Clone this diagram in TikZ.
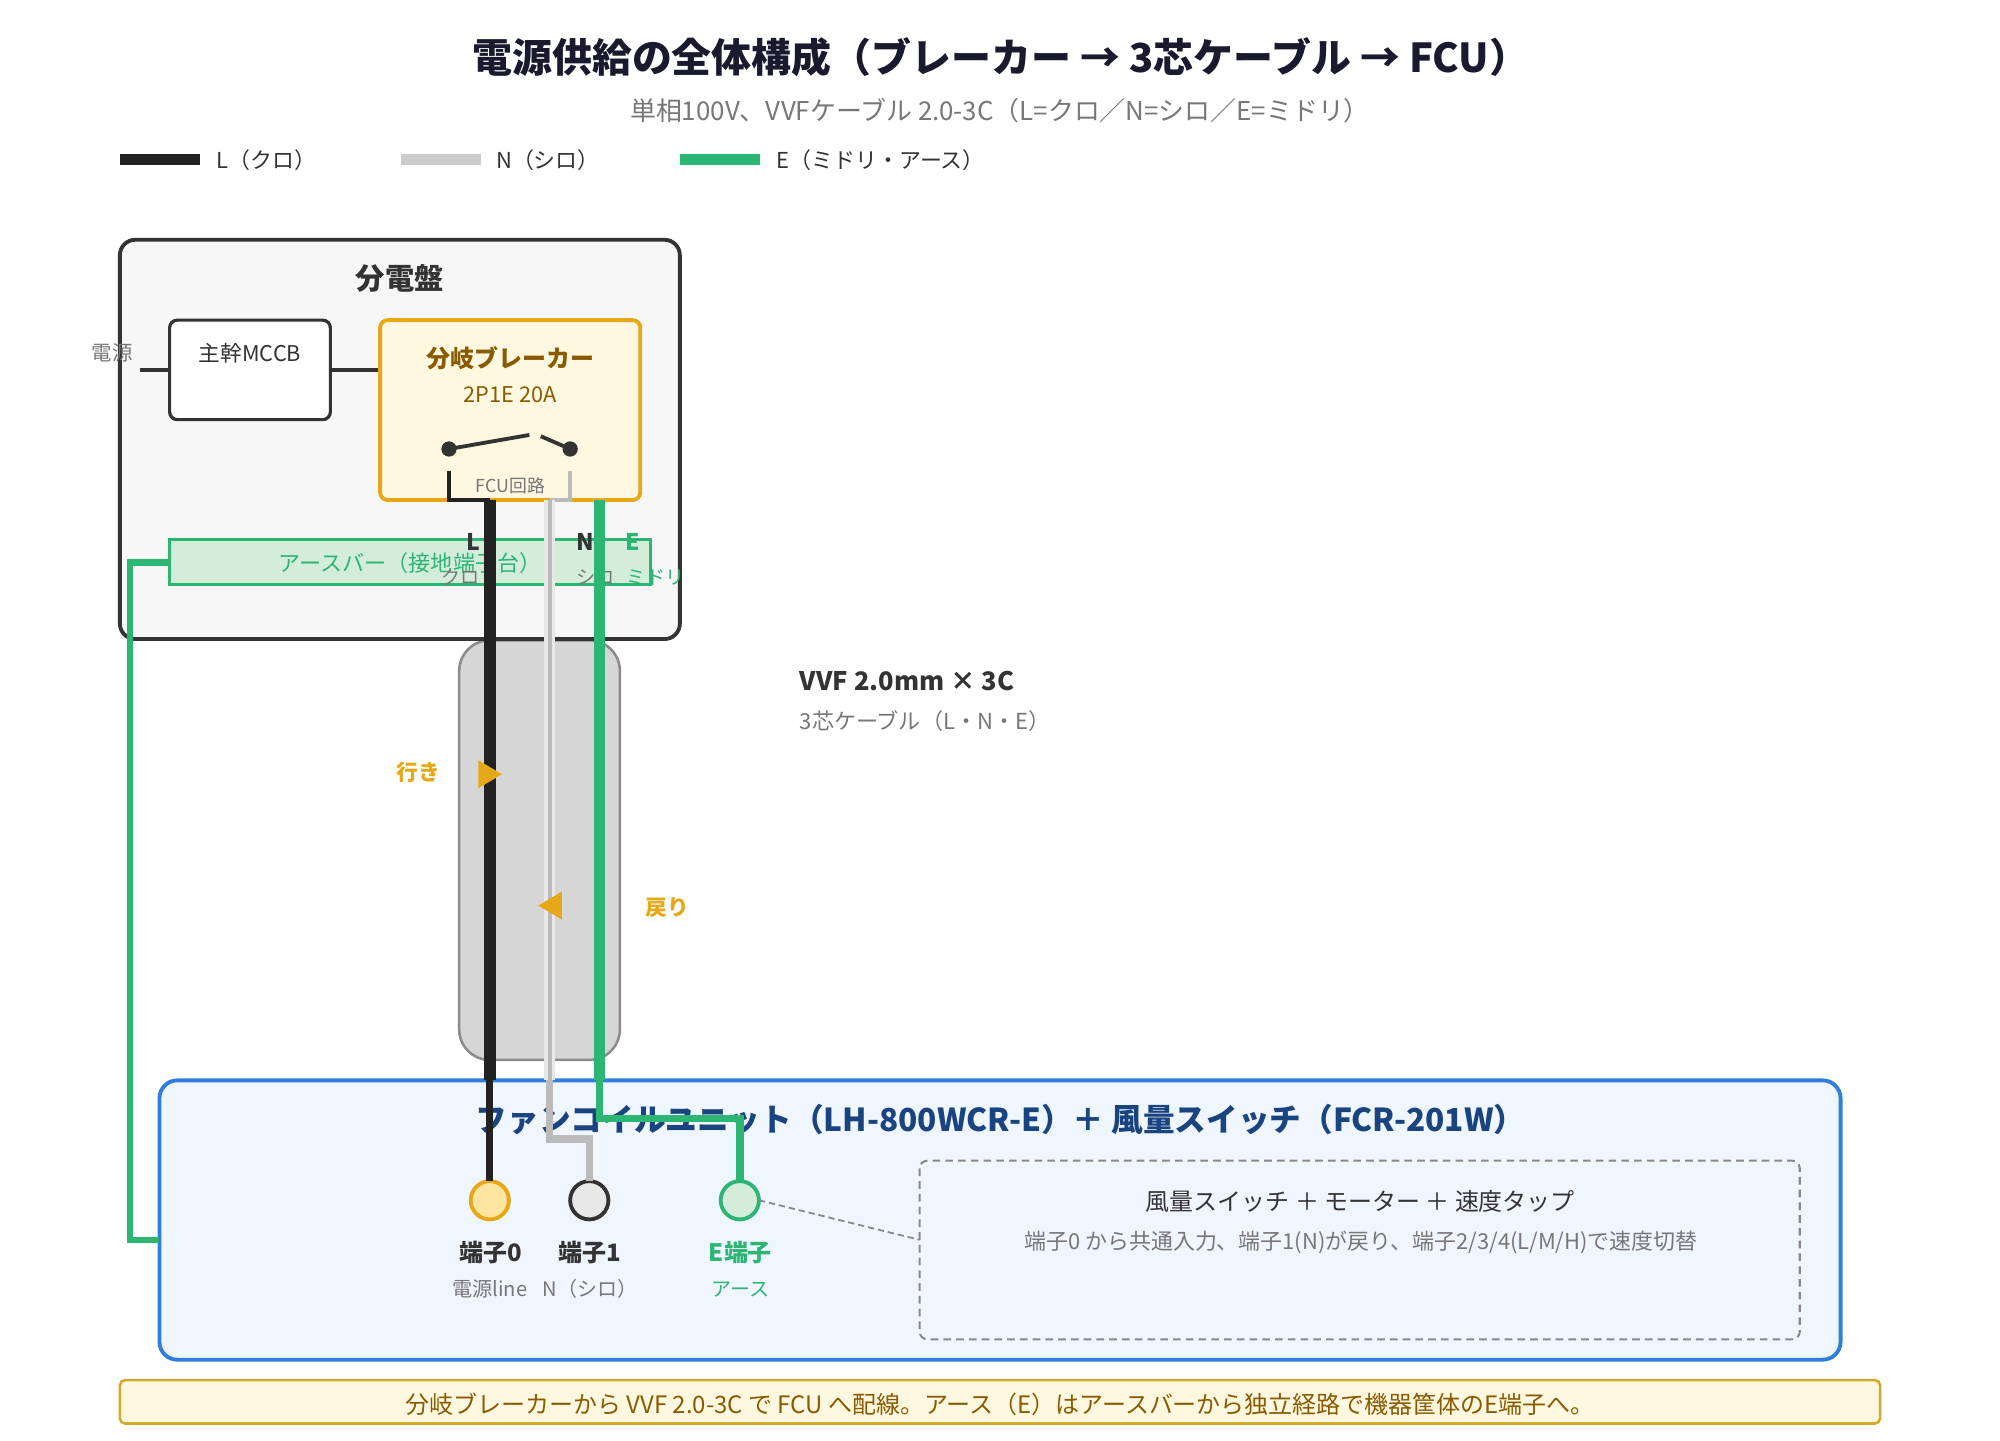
\documentclass[tikz,border=0pt]{standalone}
\usepackage{fontspec}
\setmainfont{Noto Sans CJK JP}
\newcommand{\fs}[1]{\fontsize{\the\dimexpr #1pt/2\relax}{\the\dimexpr #1pt*3/5\relax}\selectfont}
\definecolor{cDark}{HTML}{333333}
\definecolor{cL}{HTML}{222222}
\definecolor{cNb}{HTML}{BBBBBB}
\definecolor{cNl}{HTML}{E8E8E8}
\definecolor{cNleg}{HTML}{CCCCCC}
\definecolor{cE}{HTML}{2DB573}
\definecolor{cEf}{HTML}{D4EDDA}
\definecolor{cOr}{HTML}{E6A817}
\definecolor{cOrf}{HTML}{FFE5A0}
\definecolor{cBrown}{HTML}{8A5A00}
\definecolor{cCream}{HTML}{FFF8E1}
\definecolor{cBlue}{HTML}{2F7DE1}
\definecolor{cBluef}{HTML}{F0F6FF}
\definecolor{cNavy}{HTML}{1A4480}
\definecolor{cGray}{HTML}{777777}
\definecolor{cTitle}{HTML}{1A1A2E}
\definecolor{cPanel}{HTML}{F7F7F7}
\definecolor{cSheath}{HTML}{D6D6D6}
\definecolor{cFoot}{HTML}{D4A92A}
\definecolor{cDash}{HTML}{888888}
\tikzset{
 x=0.5pt,y=-0.5pt,
 txt/.style={inner sep=0pt,outer sep=0pt,align=center,text=#1,yshift=-0.35pt},
 txt/.default=cDark,
 boxn/.style={inner sep=0pt,outer sep=0pt},
 wire/.style={line cap=butt,line join=miter},
}
\newcommand{\rbox}[7]{% name x1 y1 x2 y2 radius opts
 \draw[#7,rounded corners=#6*0.5pt] (#2,#3) rectangle (#4,#5);
 \coordinate (#1) at ({(#2+#4)/2},{(#3+#5)/2});}
\begin{document}
\begin{tikzpicture}
\useasboundingbox[fill=white] (0,0) rectangle (1568,1129);
% coordinates
\coordinate (legLa) at (94,125); \coordinate (legLb) at (157,125);
\coordinate (legNa) at (314,125); \coordinate (legNb) at (377,125);
\coordinate (legEa) at (533,125); \coordinate (legEb) at (596,125);
\coordinate (pwr) at (110,290);
\coordinate (mccbL) at (133,290); \coordinate (mccbR) at (259,290);
\coordinate (brkL) at (298,290);
\coordinate (swA) at (352,352); \coordinate (swB) at (447,352);
\coordinate (swAe) at (415,341); \coordinate (swBe) at (424,342);
\coordinate (lTop) at (384,392); \coordinate (nTop) at (431,392); \coordinate (eTop) at (470,392);
\coordinate (lStub) at (352,369); \coordinate (nStub) at (447,369);
\coordinate (lBot) at (384,847); \coordinate (nBot) at (431,847); \coordinate (eBot) at (470,847);
\coordinate (nBend) at (431,893); \coordinate (nBendb) at (462,893);
\coordinate (eBend) at (470,877); \coordinate (eBendb) at (580,877);
\coordinate (barW) at (133,441); \coordinate (gA) at (102,441); \coordinate (gB) at (102,972); \coordinate (fcuW) at (125,972);
\coordinate (noteW) at (721,972);

% title
\node[txt=cTitle,font=\fs{31.3}\bfseries] (title) at (784.5,44) {電源供給の全体構成（ブレーカー → 3芯ケーブル → FCU）};
\node[txt=cGray,font=\fs{20.3}] (sub) at (784,86) {単相100V、VVFケーブル 2.0-3C（L=クロ／N=シロ／E=ミドリ）};
% legend
\draw[cL,line width=8*0.5pt] (legLa) -- (legLb);
\draw[cNleg,line width=8*0.5pt] (legNa) -- (legNb);
\draw[cE,line width=8*0.5pt] (legEa) -- (legEb);
\node[txt,anchor=west,font=\fs{17.2}] (legLt) at (170,125) {L（クロ）};
\node[txt,anchor=west,font=\fs{17.2}] (legNt) at (389,125) {N（シロ）};
\node[txt,anchor=west,font=\fs{17.2}] (legEt) at (609,125) {E（ミドリ・アース）};
% cable sheath
\rbox{sheath}{360}{502}{486}{831}{24}{fill=cSheath,draw=black!45,line width=1pt}
% panel
\rbox{panel}{94}{188}{533}{501}{12}{fill=cPanel,draw=cDark,line width=1.5pt}
\node[txt,font=\fs{23}\bfseries] (panelT) at (313.5,218) {分電盤};
\node[txt=cGray,font=\fs{16}] (pwrT) at (88,276) {電源};
\rbox{mccb}{133}{251}{259}{329}{6}{fill=white,draw=cDark,line width=1.25pt}
\node[txt,font=\fs{17}] (mccbT) at (196,276) {主幹MCCB};
\draw[cDark,line width=1.5pt] (pwr) -- (mccbL);
\draw[cDark,line width=1.5pt] (mccbR) -- (brkL);
% breaker
\rbox{brk}{298}{251}{502}{392}{6}{fill=cCream,draw=cOr,line width=1.5pt}
\node[txt=cBrown,font=\fs{18.8}\bfseries] (brkT) at (400,280) {分岐ブレーカー};
\node[txt=cBrown,font=\fs{17}] (brkS) at (400,309) {2P1E 20A};
\fill[cDark] (swA) circle[radius=3pt];
\fill[cDark] (swB) circle[radius=3pt];
\draw[cDark,line width=1.5pt] (swA) -- (swAe);
\draw[cDark,line width=1.5pt] (swB) -- (swBe);
\node[txt=cGray,font=\fs{14}] (fcuc) at (400,380) {FCU回路};
\draw[cL,line width=1.5pt,wire] (lStub) |- (lTop);
\draw[cNb,line width=1.5pt,wire] (nStub) |- (nTop);
% earth bar
\draw[fill=cEf,draw=cE,line width=1.25pt] (133,423) rectangle (510,458);
\node[txt=cE,font=\fs{17.3}] (barT) at (321.5,441) {アースバー（接地端子台）};
\node[txt,font=\fs{18}\bfseries] (lL) at (371,424) {L};
\node[txt,font=\fs{18}\bfseries] (lN) at (458.5,424) {N};
\node[txt=cE,font=\fs{18}\bfseries] (lE) at (496,424) {E};
\node[txt=cGray,font=\fs{15}] (lLs) at (361,452) {クロ};
\node[txt=cGray,font=\fs{15}] (lNs) at (467,452) {シロ};
\node[txt=cE,font=\fs{15}] (lEs) at (514,452) {ミドリ};
% fcu
\rbox{fcu}{125}{847}{1443}{1066}{14}{fill=cBluef,draw=cBlue,line width=1.5pt}
\node[txt=cNavy,font=\fs{24.8}\bfseries] (fcuT) at (784.5,877) {ファンコイルユニット（LH-800WCR-E）＋ 風量スイッチ（FCR-201W）};
% cable wires
\draw[cL,line width=4.7pt,wire] (lTop) -- (lBot);
\draw[cNl,line width=4.3pt,wire] (nTop) -- (nBot);
\draw[cNb,line width=1.4pt,wire] (nTop) -- (nBot);
\draw[cE,line width=4.7pt,wire] (eTop) -- (eBot);
% terminals
\node[circle,boxn,minimum size=30*0.5pt,fill=cOrf,draw=cOr,line width=1.5pt] (t0) at (384,941) {};
\node[circle,boxn,minimum size=30*0.5pt,fill=cNl,draw=cDark,line width=1.5pt] (t1) at (462,941) {};
\node[circle,boxn,minimum size=30*0.5pt,fill=cEf,draw=cE,line width=1.5pt] (tE) at (580,941) {};
\draw[cL,line width=2.8pt,wire] (lBot) -- (t0.north);
\draw[cNb,line width=2.8pt,wire] (nBot) -- (nBend) -- (nBendb) -- (t1.north);
\draw[cE,line width=2.9pt,wire] (eBot) -- (eBend) -- (eBendb) -- (tE.north);
\draw[cE,line width=2.5pt,wire] (barW) -- (gA) -- (gB) -- (fcuW);
% terminal text
\node[txt,font=\fs{18.8}\bfseries] (t0a) at (384.5,981) {端子0};
\node[txt,font=\fs{18.8}\bfseries] (t1a) at (462.5,981) {端子1};
\node[txt=cE,font=\fs{18.8}\bfseries] (tEa) at (580.5,981) {E端子};
\node[txt=cGray,font=\fs{15.8}] (t0b) at (384,1010) {電源line};
\node[txt=cGray,font=\fs{15.7}] (t1b) at (462.5,1010) {N（シロ）};
\node[txt=cE,font=\fs{15.7}] (tEb) at (580.5,1010) {アース};
% note
\rbox{note}{721}{910}{1411}{1050}{6}{draw=cDash,line width=0.8pt,dash pattern=on 3pt off 2pt}
\draw[cDash,line width=0.7pt,dash pattern=on 2.5pt off 1.5pt] (tE.east) -- (noteW);
\node[txt,font=\fs{18.8}] (noteT) at (1066.5,941) {風量スイッチ ＋ モーター ＋ 速度タップ};
\node[txt=cGray,font=\fs{17.2}] (noteS) at (1067,973) {端子0 から共通入力、端子1(N)が戻り、端子2/3/4(L/M/H)で速度切替};
% cable text
\node[txt,anchor=west,font=\fs{20}\bfseries] (vvf) at (627,533) {VVF 2.0mm × 3C};
\node[txt=cGray,anchor=west,font=\fs{17.3}] (vvfs) at (627,565) {3芯ケーブル（L・N・E）};
% arrows
\node[txt=cOr,font=\fs{17}\bfseries] (go) at (328,605) {行き};
\node[txt=cOr,font=\fs{17}\bfseries] (back) at (523,711) {戻り};
\fill[cOr] (375,596) -- (393.6,607) -- (375,618) -- cycle;
\fill[cOr] (440.6,699) -- (422,710) -- (440.6,721) -- cycle;
% bottom
\rbox{foot}{94}{1082}{1474}{1116}{4}{fill=cCream,draw=cFoot,line width=1pt}
\node[txt=cBrown,font=\fs{18.8}] (footT) at (784,1100) {分岐ブレーカーから VVF 2.0-3C で FCU へ配線。アース（E）はアースバーから独立経路で機器筐体のE端子へ。};
\end{tikzpicture}
\end{document}
